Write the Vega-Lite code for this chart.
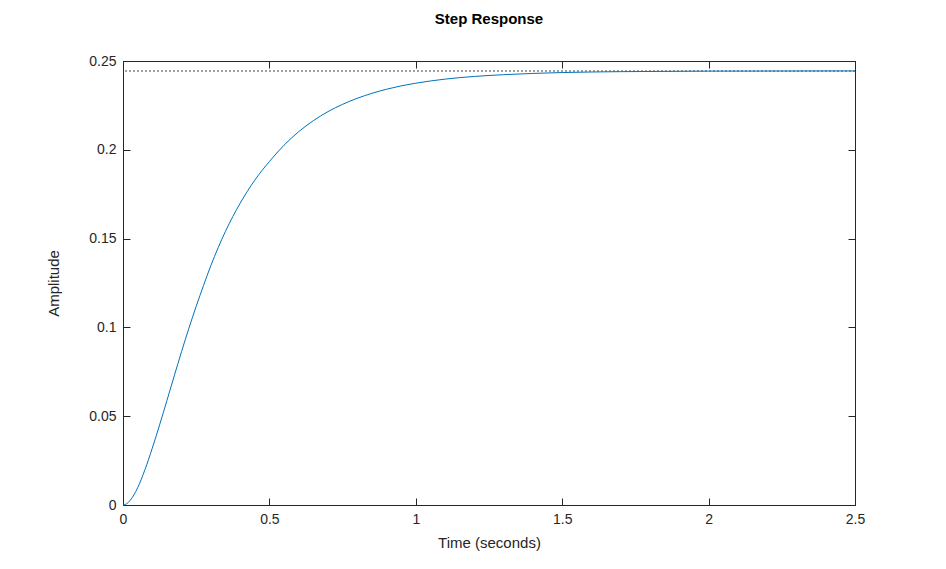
{
  "$schema": "https://vega.github.io/schema/vega-lite/v6.json",
  "width": 732,
  "height": 444,
  "autosize": {"type": "none"},
  "padding": {"left": 123, "top": 61, "right": 91, "bottom": 64},
  "background": "white",
  "title": {"text": "Step Response", "font": "Liberation Sans", "fontSize": 15, "fontWeight": "bold", "color": "#000000", "anchor": "middle", "offset": 27},
  "config": {
    "view": {"stroke": "#262626", "strokeWidth": 1},
    "axis": {"grid": false, "labelFont": "Liberation Sans", "labelFontSize": 14, "labelColor": "#262626", "labelFlush": false, "titleFont": "Liberation Sans", "titleFontSize": 15, "titleFontWeight": "normal", "titleColor": "#262626", "domainColor": "#262626", "tickColor": "#262626", "tickSize": -7, "labelPadding": 14, "format": "~g"}
  },
  "data": {"values": [
    {"t": 0, "y": 0},
    {"t": 0.0125, "y": 0.0007},
    {"t": 0.025, "y": 0.0027},
    {"t": 0.05, "y": 0.0097},
    {"t": 0.075, "y": 0.0199},
    {"t": 0.1, "y": 0.0320},
    {"t": 0.125, "y": 0.0451},
    {"t": 0.15, "y": 0.0588},
    {"t": 0.175, "y": 0.0727},
    {"t": 0.2, "y": 0.0864},
    {"t": 0.225, "y": 0.0995},
    {"t": 0.25, "y": 0.1119},
    {"t": 0.275, "y": 0.1236},
    {"t": 0.3, "y": 0.1348},
    {"t": 0.325, "y": 0.1449},
    {"t": 0.35, "y": 0.1541},
    {"t": 0.375, "y": 0.1624},
    {"t": 0.4, "y": 0.1699},
    {"t": 0.425, "y": 0.1767},
    {"t": 0.45, "y": 0.1829},
    {"t": 0.475, "y": 0.1884},
    {"t": 0.5, "y": 0.1934},
    {"t": 0.55, "y": 0.2026},
    {"t": 0.6, "y": 0.2102},
    {"t": 0.65, "y": 0.2164},
    {"t": 0.7, "y": 0.2215},
    {"t": 0.75, "y": 0.2256},
    {"t": 0.8, "y": 0.2290},
    {"t": 0.85, "y": 0.2318},
    {"t": 0.9, "y": 0.2341},
    {"t": 0.95, "y": 0.2360},
    {"t": 1.0, "y": 0.2375},
    {"t": 1.1, "y": 0.2398},
    {"t": 1.2, "y": 0.2413},
    {"t": 1.3, "y": 0.2423},
    {"t": 1.4, "y": 0.2430},
    {"t": 1.5, "y": 0.2435},
    {"t": 1.6, "y": 0.2438},
    {"t": 1.7, "y": 0.2440},
    {"t": 1.8, "y": 0.2441},
    {"t": 2.0, "y": 0.2443},
    {"t": 2.25, "y": 0.24435},
    {"t": 2.5, "y": 0.2444}
  ]},
  "layer": [
    {
      "mark": {"type": "rule", "color": "#a0a0a0", "strokeDash": [2, 2], "strokeWidth": 1},
      "encoding": {"y": {"datum": 0.2444, "type": "quantitative", "axis": null}}
    },
    {
      "mark": {"type": "line", "color": "#0072BD", "strokeWidth": 1, "interpolate": "monotone"},
      "encoding": {
        "x": {"field": "t", "type": "quantitative", "scale": {"domain": [0, 2.5], "nice": false}, "axis": {"orient": "bottom", "title": "Time (seconds)", "values": [0, 0.5, 1, 1.5, 2, 2.5], "titlePadding": 9}},
        "y": {"field": "y", "type": "quantitative", "scale": {"domain": [0, 0.25], "nice": false}, "axis": {"orient": "left", "title": "Amplitude", "values": [0, 0.05, 0.1, 0.15, 0.2, 0.25], "titlePadding": 27}}
      }
    },
    {
      "mark": {"type": "line", "opacity": 0},
      "encoding": {
        "x": {"field": "t", "type": "quantitative", "axis": {"orient": "top", "labels": false, "title": null, "values": [0, 0.5, 1, 1.5, 2, 2.5]}},
        "y": {"field": "y", "type": "quantitative", "axis": {"orient": "right", "labels": false, "title": null, "values": [0, 0.05, 0.1, 0.15, 0.2, 0.25]}}
      }
    }
  ],
  "resolve": {"axis": {"x": "independent", "y": "independent"}}
}
